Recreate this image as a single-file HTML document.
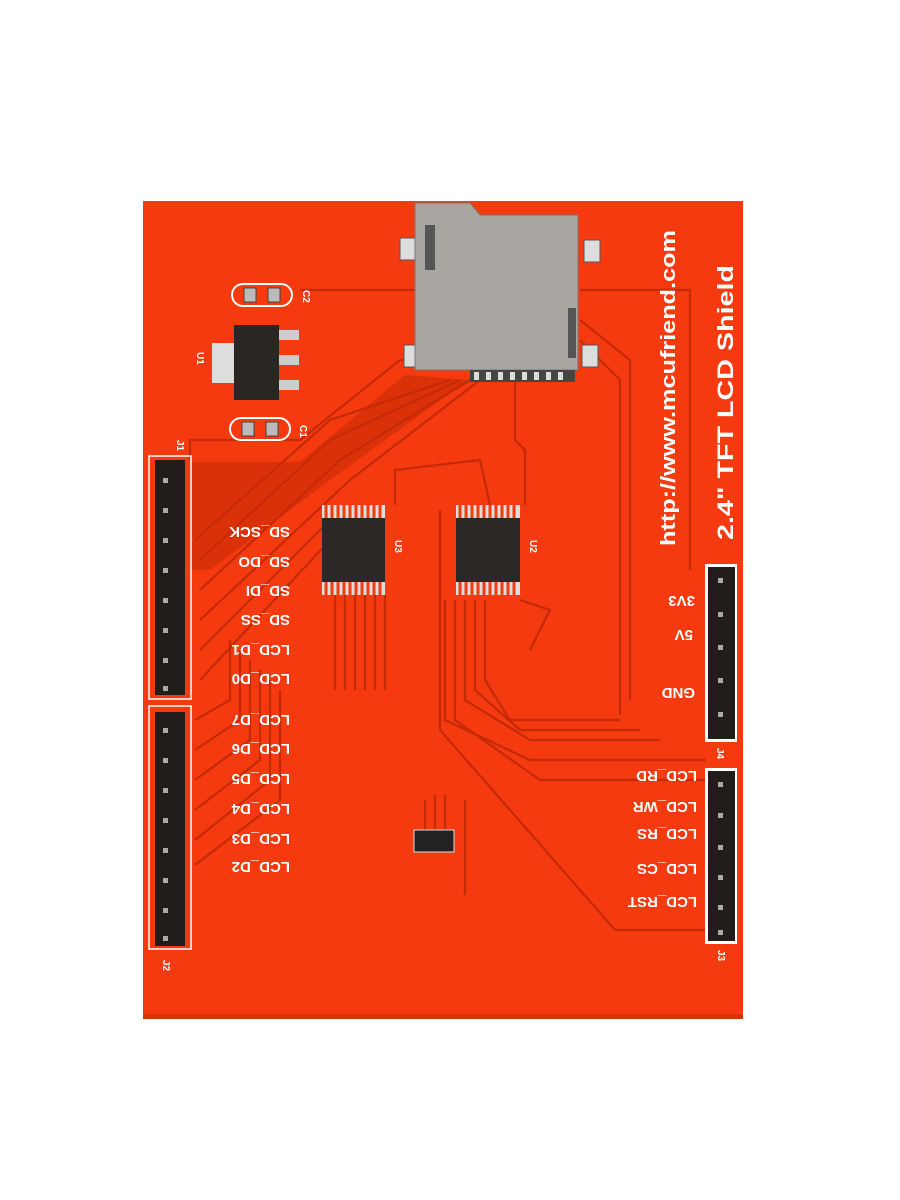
<!DOCTYPE html>
<html><head><meta charset="utf-8"><style>
html,body{margin:0;padding:0;background:#fff;width:900px;height:1200px;overflow:hidden}
</style></head><body>
<svg width="900" height="1200" viewBox="0 0 900 1200" xmlns="http://www.w3.org/2000/svg" font-family="Liberation Sans, sans-serif">
<rect x="0" y="0" width="900" height="1200" fill="#fff"/>
<rect x="143" y="201" width="600" height="818" fill="#f43a0e"/>
<rect x="143" y="1014" width="600" height="5" fill="#d8320a"/>
<path d="M190 462 L300 462 L405 375 L468 380 L330 480 L210 570 L190 570 Z" fill="#c42a06" opacity="0.55"/>
<g stroke="#c42a06" stroke-width="2.2" fill="none">
<path d="M190 460 L190 440 L300 440 L400 360 L440 360"/>
<path d="M195 540 L330 420 L450 380"/>
<path d="M200 560 L330 440 L460 380"/>
<path d="M200 590 L340 460 L470 380"/>
<path d="M200 620 L350 480 L480 380"/>
<path d="M200 650 L330 520"/>
<path d="M200 680 L330 540"/>
<path d="M195 720 L230 700 L230 640"/>
<path d="M195 750 L240 720 L240 650"/>
<path d="M195 780 L250 740 L250 660"/>
<path d="M195 810 L260 760 L260 670"/>
<path d="M195 840 L270 780 L270 680"/>
<path d="M195 865 L280 800 L280 690"/>
<path d="M335 595 L335 690 M345 595 L345 690 M355 595 L355 690 M365 595 L365 690 M375 595 L375 690 M385 595 L385 690"/>
<path d="M440 510 L440 730 L615 930 L706 930"/>
<path d="M445 600 L445 720 L530 760 L706 760"/>
<path d="M455 600 L455 720 L540 780 L706 780"/>
<path d="M465 600 L465 700 L530 740 L660 740"/>
<path d="M475 600 L475 690 L520 730 L640 730"/>
<path d="M485 600 L485 680 L510 720 L620 720"/>
<path d="M515 380 L515 440 L525 450 L525 505"/>
<path d="M580 340 L620 380 L620 715"/>
<path d="M580 320 L630 360 L630 700"/>
<path d="M580 290 L690 290 L690 570"/>
<path d="M300 290 L415 290"/>
<path d="M395 505 L395 470 L480 460 L490 505"/>
<path d="M520 600 L550 610 L530 650"/>
<path d="M465 800 L465 895"/>
<path d="M425 800 L425 830 M435 795 L435 830 M445 795 L445 830"/>
</g>
<rect x="400" y="238" width="16" height="22" fill="#ddd" stroke="#555"/>
<rect x="584" y="240" width="16" height="22" fill="#ddd" stroke="#555"/>
<rect x="404" y="345" width="16" height="22" fill="#ddd" stroke="#555"/>
<rect x="582" y="345" width="16" height="22" fill="#ddd" stroke="#555"/>
<path d="M415 203 L470 203 L480 215 L578 215 L578 370 L415 370 Z" fill="#a9a6a2" stroke="#777"/>
<rect x="568" y="308" width="8" height="50" fill="#555"/>
<rect x="425" y="225" width="10" height="45" fill="#555"/>
<rect x="470" y="370" width="105" height="12" fill="#444"/>
<g fill="#ddd"><rect x="474" y="372" width="5" height="8"/><rect x="486" y="372" width="5" height="8"/><rect x="498" y="372" width="5" height="8"/><rect x="510" y="372" width="5" height="8"/><rect x="522" y="372" width="5" height="8"/><rect x="534" y="372" width="5" height="8"/><rect x="546" y="372" width="5" height="8"/><rect x="558" y="372" width="5" height="8"/></g>
<rect x="232" y="284" width="60" height="22" rx="11" fill="none" stroke="#fff" stroke-width="2"/>
<rect x="244" y="288" width="12" height="14" fill="#bbb" stroke="#444"/><rect x="268" y="288" width="12" height="14" fill="#bbb" stroke="#444"/>
<rect x="230" y="418" width="60" height="22" rx="11" fill="none" stroke="#fff" stroke-width="2"/>
<rect x="242" y="422" width="12" height="14" fill="#bbb" stroke="#444"/><rect x="266" y="422" width="12" height="14" fill="#bbb" stroke="#444"/>
<rect x="212" y="343" width="22" height="40" fill="#ddd"/>
<rect x="234" y="325" width="45" height="75" fill="#2a2624"/>
<rect x="279" y="330" width="20" height="10" fill="#ccc"/><rect x="279" y="355" width="20" height="10" fill="#ccc"/><rect x="279" y="380" width="20" height="10" fill="#ccc"/>
<rect x="322" y="505" width="63" height="90" fill="#ddd"/>
<rect x="456" y="505" width="64" height="90" fill="#ddd"/>
<rect x="322" y="518" width="63" height="64" fill="#2b2826"/>
<rect x="456" y="518" width="64" height="64" fill="#2b2826"/>
<g stroke="#f43a0e" stroke-width="3">
<path d="M326 505v13M332 505v13M338 505v13M344 505v13M350 505v13M356 505v13M362 505v13M368 505v13M374 505v13M380 505v13M326 582v13M332 582v13M338 582v13M344 582v13M350 582v13M356 582v13M362 582v13M368 582v13M374 582v13M380 582v13"/>
<path d="M460 505v13M466 505v13M472 505v13M478 505v13M484 505v13M490 505v13M496 505v13M502 505v13M508 505v13M514 505v13M460 582v13M466 582v13M472 582v13M478 582v13M484 582v13M490 582v13M496 582v13M502 582v13M508 582v13M514 582v13"/>
</g>
<rect x="414" y="830" width="40" height="22" fill="#222" stroke="#ddd"/>
<rect x="149" y="456" width="42" height="243" fill="none" stroke="#fff" stroke-width="1.5"/>
<rect x="155" y="460" width="30" height="235" fill="#221c1a"/>
<rect x="149" y="706" width="42" height="243" fill="none" stroke="#fff" stroke-width="1.5"/>
<rect x="155" y="712" width="30" height="234" fill="#221c1a"/>
<rect x="705" y="564" width="32" height="178" fill="#fff"/>
<rect x="708" y="567" width="27" height="172" fill="#221c1a"/>
<rect x="705" y="768" width="32" height="176" fill="#fff"/>
<rect x="708" y="771" width="27" height="170" fill="#221c1a"/>
<g fill="#aaa">
<rect x="163" y="478" width="5" height="5"/><rect x="163" y="508" width="5" height="5"/><rect x="163" y="538" width="5" height="5"/><rect x="163" y="568" width="5" height="5"/><rect x="163" y="598" width="5" height="5"/><rect x="163" y="628" width="5" height="5"/><rect x="163" y="658" width="5" height="5"/><rect x="163" y="686" width="5" height="5"/>
<rect x="163" y="728" width="5" height="5"/><rect x="163" y="758" width="5" height="5"/><rect x="163" y="788" width="5" height="5"/><rect x="163" y="818" width="5" height="5"/><rect x="163" y="848" width="5" height="5"/><rect x="163" y="878" width="5" height="5"/><rect x="163" y="908" width="5" height="5"/><rect x="163" y="936" width="5" height="5"/>
<rect x="718" y="578" width="5" height="5"/><rect x="718" y="612" width="5" height="5"/><rect x="718" y="645" width="5" height="5"/><rect x="718" y="678" width="5" height="5"/><rect x="718" y="712" width="5" height="5"/>
<rect x="718" y="782" width="5" height="5"/><rect x="718" y="813" width="5" height="5"/><rect x="718" y="845" width="5" height="5"/><rect x="718" y="875" width="5" height="5"/><rect x="718" y="905" width="5" height="5"/><rect x="718" y="930" width="5" height="5"/>
</g>
<g fill="#fff" font-weight="bold" font-size="15">
<text transform="translate(290,527) rotate(180)">SD_SCK</text>
<text transform="translate(290,557) rotate(180)">SD_DO</text>
<text transform="translate(290,586) rotate(180)">SD_DI</text>
<text transform="translate(290,615) rotate(180)">SD_SS</text>
<text transform="translate(290,645) rotate(180)">LCD_D1</text>
<text transform="translate(290,674) rotate(180)">LCD_D0</text>
<text transform="translate(290,715) rotate(180)">LCD_D7</text>
<text transform="translate(290,744) rotate(180)">LCD_D6</text>
<text transform="translate(290,774) rotate(180)">LCD_D5</text>
<text transform="translate(290,804) rotate(180)">LCD_D4</text>
<text transform="translate(290,834) rotate(180)">LCD_D3</text>
<text transform="translate(290,862) rotate(180)">LCD_D2</text>
<text transform="translate(695,596) rotate(180)">3V3</text>
<text transform="translate(693,630) rotate(180)">5V</text>
<text transform="translate(695,688) rotate(180)">GND</text>
<text transform="translate(697,771) rotate(180)">LCD_RD</text>
<text transform="translate(697,802) rotate(180)">LCD_WR</text>
<text transform="translate(697,829) rotate(180)">LCD_RS</text>
<text transform="translate(697,864) rotate(180)">LCD_CS</text>
<text transform="translate(697,897) rotate(180)">LCD_RST</text>
</g>
<g fill="#fff" font-size="10" font-weight="bold">
<text transform="translate(177,440) rotate(90)">J1</text>
<text transform="translate(163,960) rotate(90)">J2</text>
<text transform="translate(717,748) rotate(90)">J4</text>
<text transform="translate(718,950) rotate(90)">J3</text>
<text transform="translate(395,540) rotate(90)">U3</text>
<text transform="translate(530,540) rotate(90)">U2</text>
<text transform="translate(197,352) rotate(90)">U1</text>
<text transform="translate(303,290) rotate(90)">C2</text>
<text transform="translate(300,425) rotate(90)">C1</text>
</g>
<g fill="#fff" font-weight="bold">
<text transform="translate(675,546) rotate(-90)" font-size="20" textLength="316" lengthAdjust="spacingAndGlyphs">http://www.mcufriend.com</text>
<text transform="translate(733,540) rotate(-90)" font-size="22" textLength="275" lengthAdjust="spacingAndGlyphs">2.4" TFT LCD Shield</text>
</g>
</svg>
</body></html>
